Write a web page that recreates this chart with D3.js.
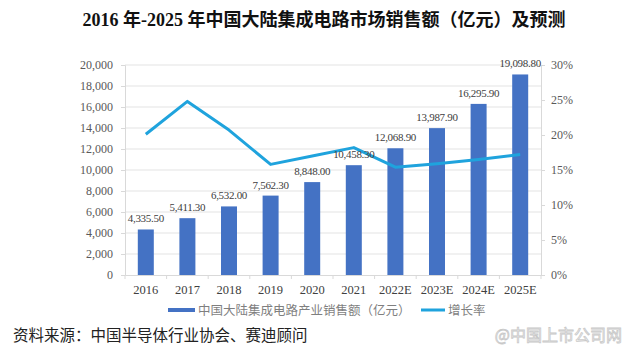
<!DOCTYPE html>
<html><head><meta charset="utf-8">
<script src="https://cdn.jsdelivr.net/npm/d3@7"></script>
<style>
html,body{margin:0;padding:0;background:#fff;}
svg{display:block;}
</style></head>
<body>
<svg id="c" width="640" height="357"></svg>
<script>
const categories = ["2016","2017","2018","2019","2020","2021","2022E","2023E","2024E","2025E"];
const sales = [4335.5,5411.3,6532.0,7562.3,8848.0,10458.3,12068.9,13987.9,16295.9,19098.8];
const salesLabels = ["4,335.50","5,411.30","6,532.00","7,562.30","8,848.00","10,458.30","12,068.90","13,987.90","16,295.90","19,098.80"];
const growth = [20.1,24.8,20.7,15.8,17.0,18.2,15.4,15.9,16.5,17.2];
const leftTicks = [0,2000,4000,6000,8000,10000,12000,14000,16000,18000,20000];
const rightTicks = [0,5,10,15,20,25,30];
const title = "2016 年-2025 年中国大陆集成电路市场销售额（亿元）及预测";
const legendNames = ["中国大陆集成电路产业销售额（亿元）","增长率"];
const source = "资料来源：中国半导体行业协会、赛迪顾问";
const watermark = "@中国上市公司网";

const svg = d3.select("#c");
const serif = "'Liberation Serif','Noto Sans CJK SC',serif";
const cjk = "'Liberation Serif','Noto Sans CJK SC',sans-serif";
const L = 125, R = 541, T = 65, B = 275;
const x = d3.scaleBand().domain(categories).range([L, R]);
const y = d3.scaleLinear().domain([0, 20000]).range([B, T]);
const y2 = d3.scaleLinear().domain([0, 30]).range([B, T]);
const barColor = "#4472C4", lineColor = "#1FA3DD", gridColor = "#E3E3E3", txt = "#595959";

svg.append("text").attr("x", 324).attr("y", 26).attr("text-anchor", "middle")
  .attr("font-family", cjk).attr("font-weight", "bold").attr("font-size", 18)
  .attr("fill", "#111").text(title);

// grid
svg.append("g").selectAll("line").data(leftTicks.slice(1)).join("line")
  .attr("x1", L).attr("x2", R).attr("y1", d => y(d)).attr("y2", d => y(d))
  .attr("stroke", gridColor).attr("stroke-width", 1);

// left axis
const gl = svg.append("g").attr("transform", `translate(${L},0)`)
  .call(d3.axisLeft(y).tickValues(leftTicks).tickFormat(d3.format(",")).tickSize(4).tickPadding(8));
gl.select(".domain").attr("stroke", "#D9D9D9");
gl.selectAll(".tick line").attr("stroke", "#D9D9D9");
gl.selectAll("text").attr("font-family", serif).attr("font-size", 12).attr("fill", txt);

// right axis
const gr = svg.append("g").attr("transform", `translate(${R},0)`)
  .call(d3.axisRight(y2).tickValues(rightTicks).tickFormat(d => d + "%").tickSize(4).tickPadding(6));
gr.select(".domain").attr("stroke", "#D9D9D9");
gr.selectAll(".tick line").attr("stroke", "#D9D9D9");
gr.selectAll("text").attr("font-family", serif).attr("font-size", 12).attr("fill", txt);

// bottom axis
const gb = svg.append("g").attr("transform", `translate(0,${B})`)
  .call(d3.axisBottom(x).tickSize(0).tickPadding(10));
gb.select(".domain").attr("stroke", "#D9D9D9");
gb.selectAll("text").attr("font-family", serif).attr("font-size", 12.5).attr("fill", "#404040");
svg.append("g").selectAll("line").data(categories).join("line")
  .attr("x1", d => x(d)).attr("x2", d => x(d)).attr("y1", B).attr("y2", B + 4)
  .attr("stroke", "#D9D9D9");
svg.append("line").attr("x1", R).attr("x2", R).attr("y1", B).attr("y2", B + 4).attr("stroke", "#D9D9D9");

// bars
const bw = 16;
svg.append("g").selectAll("rect").data(sales).join("rect")
  .attr("x", (d, i) => x(categories[i]) + x.bandwidth() / 2 - bw / 2)
  .attr("y", d => y(d)).attr("width", bw).attr("height", d => B - y(d))
  .attr("fill", barColor);

// line
const line = d3.line().x((d, i) => x(categories[i]) + x.bandwidth() / 2).y(d => y2(d));
svg.append("path").datum(growth).attr("d", line).attr("fill", "none")
  .attr("stroke", lineColor).attr("stroke-width", 3).attr("stroke-linejoin", "round");

// data labels
svg.append("g").selectAll("text").data(sales).join("text")
  .attr("x", (d, i) => x(categories[i]) + x.bandwidth() / 2)
  .attr("y", d => y(d) - 7).attr("text-anchor", "middle")
  .attr("font-family", serif).attr("font-size", 11).attr("letter-spacing", -0.3)
  .attr("fill", "#404040").text((d, i) => salesLabels[i]);

// legend
const lg = svg.append("g");
lg.append("rect").attr("x", 168).attr("y", 308).attr("width", 27).attr("height", 4).attr("fill", barColor);
lg.append("text").attr("x", 198).attr("y", 314.5).attr("font-family", cjk).attr("font-size", 12.5)
  .attr("fill", "#7F7F7F").text(legendNames[0]);
lg.append("line").attr("x1", 421).attr("x2", 445).attr("y1", 310).attr("y2", 310)
  .attr("stroke", lineColor).attr("stroke-width", 3);
lg.append("text").attr("x", 448).attr("y", 314.5).attr("font-family", cjk).attr("font-size", 12.5)
  .attr("fill", "#7F7F7F").text(legendNames[1]);

// source
svg.append("text").attr("x", 13).attr("y", 341).attr("font-family", cjk).attr("font-size", 15.5)
  .attr("fill", "#222").text(source);
svg.append("text").attr("x", 622).attr("y", 341).attr("text-anchor", "end")
  .attr("font-family", "'Noto Sans CJK SC',sans-serif").attr("font-size", 16)
  .attr("fill", "none").attr("stroke", "#C8C8C8").attr("stroke-width", 0.8).text(watermark);
</script>
</body></html>
